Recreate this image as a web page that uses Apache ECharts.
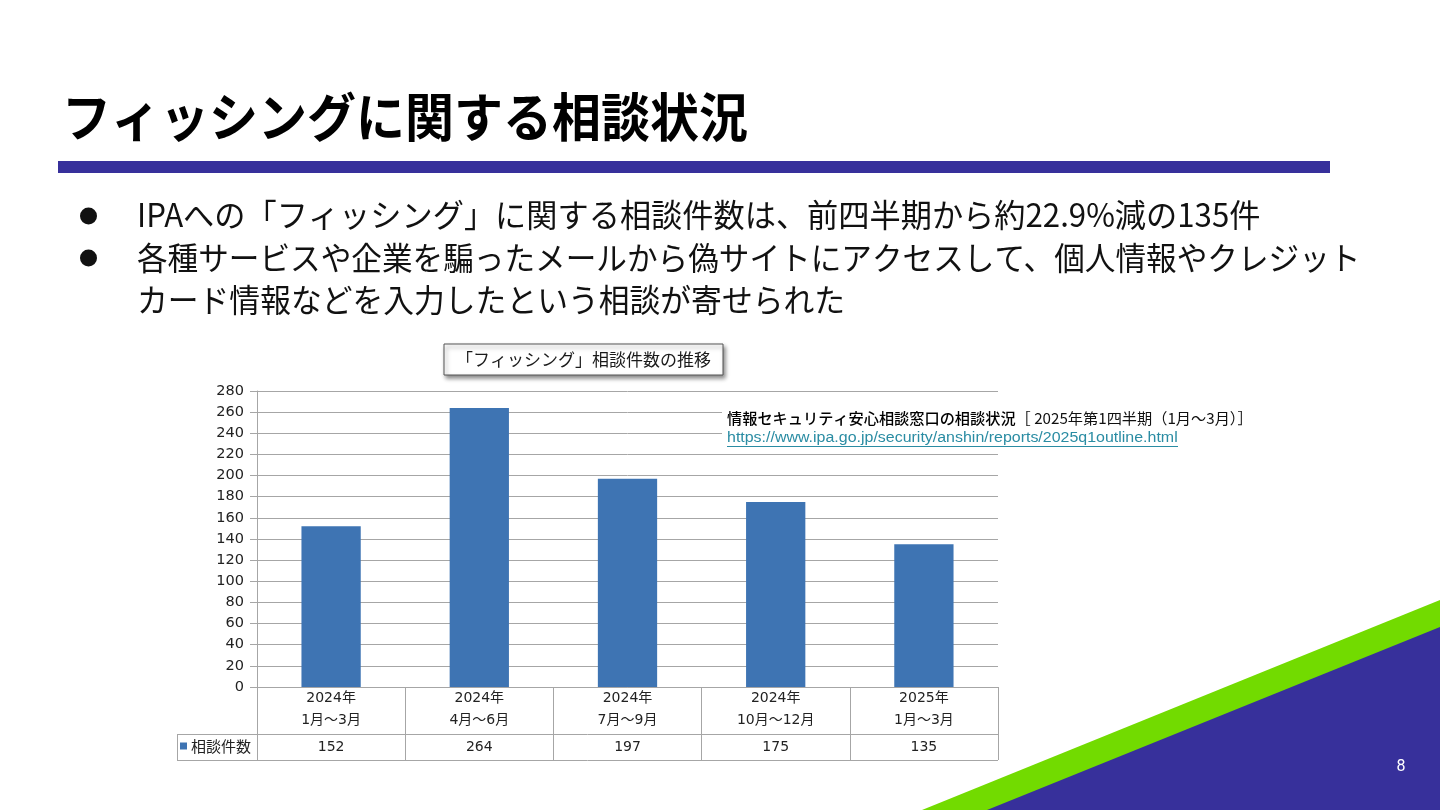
<!DOCTYPE html>
<html>
<head>
<meta charset="utf-8">
<script src="https://cdn.jsdelivr.net/npm/echarts@6/dist/echarts.min.js"></script>
<style>
html,body{margin:0;padding:0;background:#fff;}
#chart{width:1440px;height:810px;}
</style>
</head>
<body>
<div id="chart"></div>
<script>
// ---- data ----
const categoryYears = ['2024年', '2024年', '2024年', '2024年', '2025年'];
const categoryMonths = ['1月～3月', '4月～6月', '7月～9月', '10月～12月', '1月～3月'];
const counts = [152, 264, 197, 175, 135];
const seriesName = '相談件数';
const yMin = 0, yMax = 280, yInterval = 20;

const slideTitle = 'フィッシングに関する相談状況';
const bullets = [
  'IPAへの「フィッシング」に関する相談件数は、前四半期から約22.9%減の135件',
  '各種サービスや企業を騙ったメールから偽サイトにアクセスして、個人情報やクレジット',
  'カード情報などを入力したという相談が寄せられた'
];
const chartTitle = '「フィッシング」相談件数の推移';
const sourceBold = '情報セキュリティ安心相談窓口の相談状況';
const sourceNormal = '［ 2025年第1四半期（1月～3月）］';
const sourceUrl = 'https://www.ipa.go.jp/security/anshin/reports/2025q1outline.html';
const pageNumber = '8';

// ---- chart ----
const BAR = '#3E74B3';
const GRID = '#a6a6a6';
const CJK = '"Noto Sans CJK JP", sans-serif';
const NUM = '"DejaVu Sans", "Noto Sans CJK JP", sans-serif';

const categories = categoryYears.map((y, i) => y + '\n' + categoryMonths[i]);

const chart = echarts.init(document.getElementById('chart'), null, {renderer: 'canvas'});

const bulletScale = [0.975, 0.957, 0.962];
const bulletY = [215, 258, 300];

const option = {
  backgroundColor: '#ffffff',
  animation: false,
  grid: {left: 257, right: 442, top: 391, bottom: 123, containLabel: false},
  xAxis: {
    type: 'category',
    data: categories,
    axisLine: {show: true, lineStyle: {color: GRID, width: 1}},
    axisTick: {show: true, length: 73, alignWithLabel: false, lineStyle: {color: GRID, width: 1}},
    axisLabel: {
      margin: 0,
      interval: 0,
      formatter: function (v, idx) {
        const parts = v.split('\n');
        return '{c|' + parts[0] + '}\n{c|' + parts[1] + '}\n{v|' + counts[idx] + '}';
      },
      rich: {
        c: {fontSize: 14, lineHeight: 22, color: '#222', fontFamily: NUM, align: 'center'},
        v: {fontSize: 14, lineHeight: 33, color: '#222', fontFamily: NUM, align: 'center'}
      }
    }
  },
  yAxis: {
    type: 'value',
    min: yMin, max: yMax, interval: yInterval,
    axisLine: {show: true, lineStyle: {color: GRID, width: 1}},
    axisTick: {show: true, length: 7, lineStyle: {color: GRID}},
    axisLabel: {margin: 13, fontSize: 14.5, color: '#222', fontFamily: NUM},
    splitLine: {show: true, lineStyle: {color: GRID, width: 1}}
  },
  series: [{
    name: seriesName,
    type: 'bar',
    data: counts,
    barWidth: '40%',
    itemStyle: {color: BAR},
    z: 2
  }],
  graphic: [
    // decorative triangles
    {type: 'polygon', z: 1, silent: true, shape: {points: [[922, 810], [1440, 600], [1440, 810]]}, style: {fill: '#72DB00'}},
    {type: 'polygon', z: 2, silent: true, shape: {points: [[987, 810], [1440, 627], [1440, 810]]}, style: {fill: '#37309B'}},
    {type: 'text', z: 3, x: 1401, y: 767, style: {text: pageNumber, fill: '#ffffff', fontSize: 16, fontFamily: 'Roboto, sans-serif', align: 'center', verticalAlign: 'middle'}},
    // header
    {type: 'text', x: 62, y: 117, scaleY: 1.07, style: {text: slideTitle, fill: '#000', fontSize: 49, fontWeight: 'bold', fontFamily: CJK, verticalAlign: 'middle'}},
    {type: 'rect', shape: {x: 58, y: 161, width: 1272, height: 12}, style: {fill: '#37309B'}},
    // bullets
    {type: 'circle', shape: {cx: 88.5, cy: 216, r: 8.5}, style: {fill: '#111'}},
    {type: 'circle', shape: {cx: 88.5, cy: 258, r: 8.5}, style: {fill: '#111'}},
    ...bullets.map((b, i) => ({type: 'text', x: 137, y: bulletY[i], scaleX: bulletScale[i],
      style: {text: b, fill: '#111', fontSize: 32, fontFamily: CJK, verticalAlign: 'middle'}})),
    // chart title box
    {type: 'rect', z: 10, shape: {x: 444, y: 344, width: 279, height: 31},
      style: {fill: '#fff', stroke: '#555', lineWidth: 1, shadowBlur: 4, shadowOffsetX: 2, shadowOffsetY: 3, shadowColor: 'rgba(0,0,0,0.45)'}},
    {type: 'text', z: 11, x: 583.5, y: 360, style: {text: chartTitle, fill: '#1a1a1a', fontSize: 17, fontFamily: CJK, align: 'center', verticalAlign: 'middle'}},
    // source box
    {type: 'rect', z: 10, shape: {x: 722, y: 404, width: 540, height: 46}, style: {fill: '#fff'}},
    {type: 'text', z: 11, x: 727, y: 418, style: {
      rich: {
        b: {fontSize: 15.2, fontWeight: 500, fill: '#000', fontFamily: CJK},
        n: {fontSize: 15.2, fill: '#111', fontFamily: CJK}
      },
      text: '{b|' + sourceBold + '}{n|' + sourceNormal + '}', verticalAlign: 'middle'}},
    {type: 'text', z: 11, x: 727, y: 438, scaleX: 1.14, style: {text: sourceUrl, fill: '#2A8CA3', fontSize: 14, fontFamily: '"Liberation Sans", Arial, sans-serif', verticalAlign: 'middle'}},
    {type: 'line', z: 11, shape: {x1: 727, y1: 446.5, x2: 1178, y2: 446.5}, style: {stroke: '#2A8CA3', lineWidth: 1}},
    // data table lines
    {type: 'line', z: 5, shape: {x1: 177, y1: 734.5, x2: 998, y2: 734.5}, style: {stroke: GRID, lineWidth: 1}},
    {type: 'line', z: 5, shape: {x1: 177, y1: 760.5, x2: 998, y2: 760.5}, style: {stroke: GRID, lineWidth: 1}},
    {type: 'line', z: 5, shape: {x1: 177.5, y1: 734, x2: 177.5, y2: 761}, style: {stroke: GRID, lineWidth: 1}},
    {type: 'rect', z: 5, shape: {x: 180, y: 742.5, width: 7, height: 7}, style: {fill: BAR}},
    {type: 'text', z: 5, x: 191, y: 746.5, style: {text: seriesName, fill: '#222', fontSize: 15, fontFamily: CJK, verticalAlign: 'middle'}}
  ]
};
chart.setOption(option);
</script>
</body>
</html>
